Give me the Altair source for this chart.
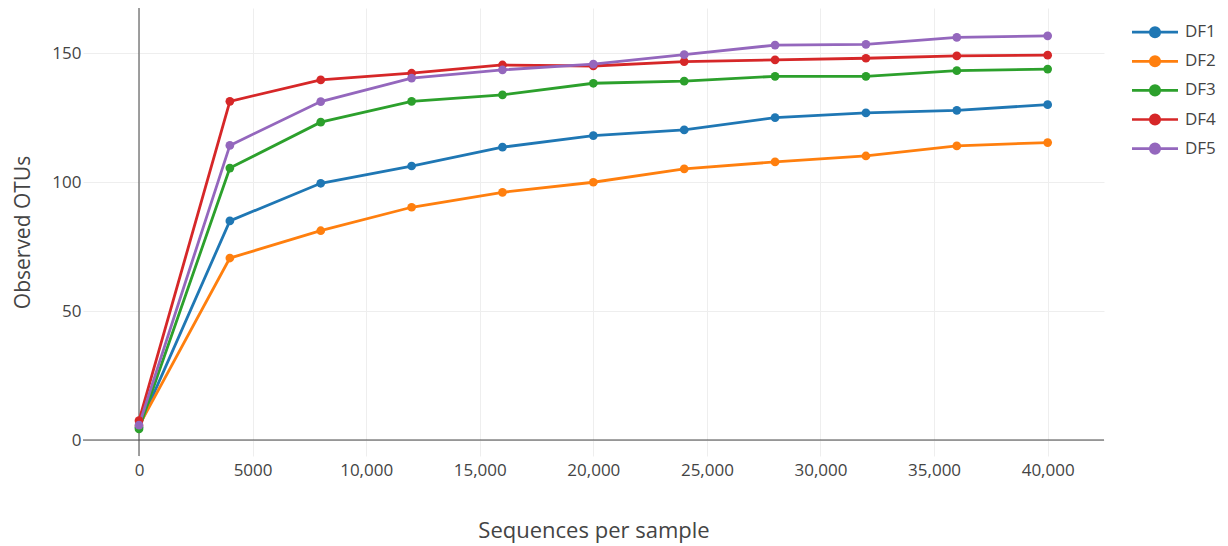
import altair as alt
import pandas as pd

# ---- data ----
seqs = [0, 4000, 8000, 12000, 16000, 20000, 24000, 28000, 32000, 36000, 40000]
series_names = ["DF1", "DF2", "DF3", "DF4", "DF5"]
df1 = [5.0, 85.0, 99.6, 106.3, 113.6, 118.1, 120.3, 125.1, 126.9, 127.9, 130.1]
df2 = [5.5, 70.6, 81.2, 90.3, 96.1, 100.0, 105.2, 107.9, 110.2, 114.1, 115.4]
df3 = [4.3, 105.5, 123.3, 131.4, 133.9, 138.4, 139.2, 141.1, 141.1, 143.3, 143.9]
df4 = [7.5, 131.4, 139.7, 142.3, 145.5, 145.1, 146.8, 147.5, 148.1, 149.0, 149.3]
df5 = [5.8, 114.3, 131.3, 140.4, 143.6, 145.8, 149.5, 153.2, 153.5, 156.2, 156.8]
series_values = [df1, df2, df3, df4, df5]
colors = ["#1f77b4", "#ff7f0e", "#2ca02c", "#d62728", "#9467bd"]
x_ticks = [0, 5000, 10000, 15000, 20000, 25000, 30000, 35000, 40000]
y_ticks = [0, 50, 100, 150]

rows = []
for name, vals in zip(series_names, series_values):
    for s, v in zip(seqs, vals):
        rows.append({"seq": s, "otus": v, "series": name})
data = pd.DataFrame(rows)

FONT = "Open Sans"
TXT = "#444444"

xscale = alt.Scale(domain=[-2465, 42480], nice=False, zero=False)
yscale = alt.Scale(domain=[-6.2, 167.6], nice=False, zero=False)

x_enc = alt.X(
    "seq:Q",
    scale=xscale,
    axis=alt.Axis(
        values=x_ticks,
        labelExpr="datum.value >= 10000 ? format(datum.value, ',') : format(datum.value, 'd')",
        title="Sequences per sample",
        titleX=510.5,
        titleY=81,
        titleAlign="center",
        titleBaseline="alphabetic",
        labelPadding=6,
        ticks=False,
        domain=False,
        grid=True,
    ),
)
y_enc = alt.Y(
    "otus:Q",
    scale=yscale,
    axis=alt.Axis(
        values=y_ticks,
        title="Observed OTUs",
        titleX=-60,
        titleY=224,
        titleAngle=-90,
        titleAlign="center",
        titleBaseline="middle",
        titleFontSize=21,
        labelPadding=2,
        ticks=False,
        domain=False,
        grid=True,
    ),
)

legend = alt.Legend(
    title=None,
    orient="none",
    legendX=1060.5,
    legendY=12.7,
    padding=0,
    rowPadding=7.1,
    symbolType="M-2.3,0H2.3M-0.47,0A0.47,0.47 0 1,0 0.47,0A0.47,0.47 0 1,0 -0.47,0Z",
    symbolSize=400,
    symbolStrokeWidth=2.7,
    symbolOpacity=1,
    labelOffset=18.5,
    labelFont=FONT,
    labelFontSize=17,
    labelColor=TXT,
)

base = alt.Chart(data)

zero_h = alt.Chart(pd.DataFrame({"v": [0]})).mark_rule(color="#444444", strokeWidth=1).encode(
    y=alt.Y("v:Q", scale=yscale)
)
zero_v = alt.Chart(pd.DataFrame({"v": [0]})).mark_rule(color="#444444", strokeWidth=1).encode(
    x=alt.X("v:Q", scale=xscale)
)

lines = base.mark_line(strokeWidth=2.8).encode(
    x=x_enc,
    y=y_enc,
    stroke=alt.Stroke("series:N", scale=alt.Scale(domain=series_names, range=colors), legend=legend),
    detail="series:N",
)
points = base.mark_circle(size=76, opacity=1).encode(
    x=alt.X("seq:Q", scale=xscale),
    y=alt.Y("otus:Q", scale=yscale),
    fill=alt.Fill("series:N", scale=alt.Scale(domain=series_names, range=colors), legend=legend),
)

chart = (
    alt.layer(zero_h, zero_v, lines, points)
    .properties(
        width=1021,
        height=448,
        autosize=alt.AutoSizeParams(type="none"),
        padding={"left": 75, "top": 0, "right": 116, "bottom": 90},
        background="white",
    )
    .configure_view(stroke=None)
    .configure_axis(
        gridColor="#eeeeee",
        gridWidth=1,
        labelFont=FONT,
        labelFontSize=17,
        labelColor=TXT,
        titleFont=FONT,
        titleFontSize=22,
        titleFontWeight="normal",
        titleColor=TXT,
    )
)

chart.save("out.html", embed_options={"renderer": "svg", "actions": False})
